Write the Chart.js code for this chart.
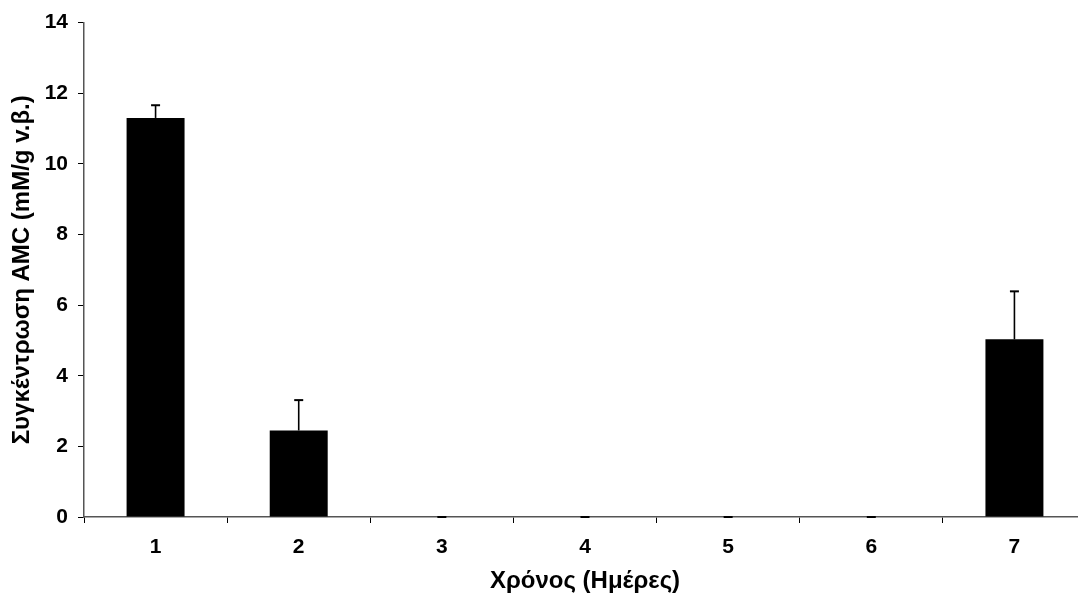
<!DOCTYPE html>
<html>
<head>
<meta charset="utf-8">
<script src="https://cdn.jsdelivr.net/npm/chart.js@4"></script>
<style>
  html, body { margin: 0; padding: 0; background: #fff; overflow: hidden; }
  #wrap { width: 1092px; height: 601px; }
</style>
</head>
<body>
<div id="wrap"><canvas id="c" width="1092" height="601"></canvas></div>
<script>
const days = ['1', '2', '3', '4', '5', '6', '7'];
const amcMeans = [11.3, 2.45, 0, 0, 0, 0, 5.03];
const amcErrors = [0.36, 0.86, 0, 0, 0, 0, 1.36];
const yTicks = [0, 2, 4, 6, 8, 10, 12, 14];
const xTitle = 'Χρόνος (Ημέρες)';
const yTitle = 'Συγκέντρωση AMC (mM/g v.β.)';

const FONT = '"Liberation Sans", Arial, sans-serif';

const errorBars = {
  id: 'errorBars',
  afterDatasetsDraw(chart) {
    const ctx = chart.ctx;
    const meta = chart.getDatasetMeta(0);
    const ys = chart.scales.y;
    ctx.save();
    ctx.strokeStyle = '#000';
    meta.data.forEach((bar, i) => {
      const x = bar.x;
      const top = ys.getPixelForValue(amcMeans[i] + amcErrors[i]);
      const base = ys.getPixelForValue(amcMeans[i]);
      ctx.lineWidth = 1.6;
      ctx.beginPath();
      ctx.moveTo(x, base);
      ctx.lineTo(x, top);
      ctx.stroke();
      ctx.lineWidth = 2;
      ctx.beginPath();
      ctx.moveTo(x - 4.5, top);
      ctx.lineTo(x + 4.5, top);
      ctx.stroke();
    });
    ctx.restore();
  }
};

new Chart(document.getElementById('c'), {
  type: 'bar',
  data: {
    labels: days,
    datasets: [{
      data: amcMeans,
      backgroundColor: '#000',
      borderWidth: 0,
      categoryPercentage: 1,
      barPercentage: 0.405
    }]
  },
  options: {
    responsive: false,
    animation: false,
    devicePixelRatio: 1,
    layout: { padding: { top: 21, right: 6, left: 0, bottom: 0 } },
    plugins: { legend: { display: false }, tooltip: { enabled: false } },
    scales: {
      x: {
        afterFit(s) { s.height = 84; },
        grid: { drawOnChartArea: false, drawTicks: true, tickLength: 6, color: '#000', lineWidth: 1, offset: true },
        border: { color: '#555', width: 1.5 },
        ticks: { color: '#000', padding: 12, font: { family: FONT, size: 21, weight: 'bold' } },
        title: { display: true, text: xTitle, color: '#000', padding: { top: 10, bottom: 5 }, font: { family: FONT, size: 24, weight: 'bold' } }
      },
      y: {
        min: 0, max: 14,
        afterFit(s) { s.width = 84; },
        afterBuildTicks(s) { s.ticks = yTicks.map(v => ({ value: v })); },
        grid: { drawOnChartArea: false, drawTicks: true, tickLength: 6, color: '#000', lineWidth: 1 },
        border: { color: '#555', width: 1.5 },
        ticks: { color: '#000', padding: 10, font: { family: FONT, size: 21, weight: 'bold' } },
        title: { display: true, text: yTitle, color: '#000', padding: { top: 8, bottom: 4 }, font: { family: FONT, size: 24, weight: 'bold' } }
      }
    }
  },
  plugins: [errorBars]
});
</script>
</body>
</html>
